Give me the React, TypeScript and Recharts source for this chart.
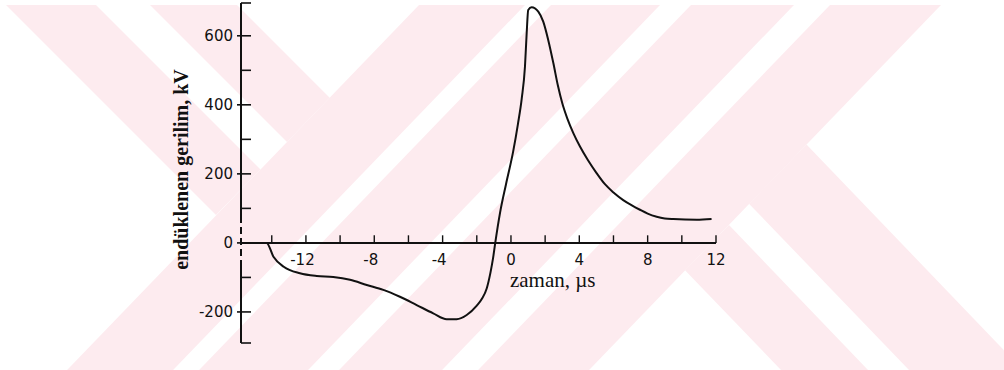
import React from 'react';
import { LineChart, Line, XAxis, YAxis, ReferenceLine, ReferenceDot } from 'recharts';

// zaman (µs) and endüklenen gerilim (kV) of the induced voltage waveform
const times = [
  -15.8, -14.3, -13.9, -13.3, -12.35, -11.37, -10.4, -9.42, -8.44, -7.47, -6.5,
  -5.52, -4.55, -3.76, -3.18, -2.59, -2.0, -1.7, -1.42, -1.2, -1.05, -0.92,
  -0.64, -0.29, 0.13, 0.41, 0.63, 0.82, 0.92, 1.01, 1.21, 1.6, 1.89, 2.18, 2.48,
  2.75, 3.0, 3.3, 3.65, 4.04, 4.5, 5.0, 5.5, 6.0, 6.57, 7.1, 7.55, 8.0, 8.53,
  9.0, 9.5, 10.87, 11.74,
];
const voltages = [
  0, 0, -40, -69, -88, -96, -99, -107, -122, -136, -156,
  -180, -204, -221, -221, -209, -182, -162, -132, -86, -45, 0,
  87, 170, 265, 345, 418, 511, 608, 675, 683, 670, 641, 588, 521,
  455, 405, 360, 318, 279, 240, 203, 170, 146, 124, 108, 96, 85, 76,
  71, 69, 67, 69,
];

const xTicks = [-14, -12, -10, -8, -6, -4, -2, 0, 2, 4, 6, 8, 10, 12];
const xLabels = [-12, -8, -4, 0, 4, 8, 12];
const yTicks = [-290, -200, -100, 0, 100, 200, 300, 400, 500, 600, 695];
const yLabels = [-200, 0, 200, 400, 600];

const xDomain: [number, number] = [-15.8, 12];
const yDomain: [number, number] = [-290, 695];

// stretch of the vertical axis that is drawn broken (kV)
const brokenFrom = 78;
const brokenTo = -70;

const xTitle = 'zaman, µs';
const yTitle = 'endüklenen gerilim, kV';

const data = times.map((t, i) => ({ t, v: voltages[i] }));

const INK = '#111';
const TICK_FONT = '"DejaVu Sans", sans-serif';
const SERIF = '"Liberation Serif", "Times New Roman", serif';
const PINK = '#fdebef';

// background emblem bands
const bands: string[] = [
  '419,5 525,5 173.1,370 67.1,370',
  '551,5 660,5 308.1,370 199.1,370',
  '691,5 794,5 442.1,370 339.1,370',
  '830,5 941,5 589.1,370 478.1,370',
  '6,5 96,5 260.5,169.5 216,215',
  '150,5 237,5 329.7,97.7 287,142',
  '685,270.3 729,225 868,370 781,370',
  '749,203.7 806.5,144.5 1023,370 909,370',
];

const YTick = (props: any) => {
  const { x, y, payload } = props;
  const val = payload.value as number;
  const labelled = yLabels.includes(val);
  return (
    <g>
      <line x1={labelled ? x - 4 : x} x2={x + 10} y1={y} y2={y} stroke={INK} strokeWidth={1.6} />
      {labelled && (
        <text x={x - 8} y={y} dy="0.36em" textAnchor="end" fontFamily={TICK_FONT} fontSize={15} fill={INK}>
          {String(val)}
        </text>
      )}
    </g>
  );
};

const makeXLabel = (val: number) => (props: any) => {
  const vb = props.viewBox || {};
  const cx = vb.x + (vb.width || 0) / 2;
  const cy = vb.y + (vb.height || 0) / 2;
  return (
    <text x={cx + (val < 0 ? -3.5 : 0)} y={cy + 22} textAnchor="middle" fontFamily={TICK_FONT} fontSize={15} fill={INK}>
      {String(val)}
    </text>
  );
};

const xTitleLabel = (props: any) => {
  const vb = props.viewBox || {};
  const x = vb.x - 1;
  const y = vb.y + 44;
  return (
    <text x={x} y={y} textAnchor="start" fontFamily={SERIF} fontSize={21} fill={INK}>
      {xTitle}
    </text>
  );
};

const yTitleLabel = (props: any) => {
  const vb = props.viewBox || {};
  const x = vb.x + 7;
  const y = vb.y + vb.height / 2 - 3.5;
  return (
    <text
      x={x}
      y={y}
      transform={`rotate(-90, ${x}, ${y})`}
      textAnchor="middle"
      fontFamily={SERIF}
      fontWeight="bold"
      fontSize={20}
      fill={INK}
    >
      {yTitle}
    </text>
  );
};

export default function App() {
  const x0 = xDomain[0];
  return (
    <div style={{ position: 'absolute', left: 0, top: 0, width: 1004, height: 370, background: '#fff', overflow: 'hidden' }}>
      <svg width={1004} height={370} style={{ position: 'absolute', left: 0, top: 0 }}>
        {bands.map((p, i) => (
          <polygon key={i} points={p} fill={PINK} />
        ))}
      </svg>
      <div style={{ position: 'absolute', left: 0, top: 0 }}>
        <LineChart width={1004} height={370} data={data} margin={{ top: 3, right: 288, bottom: 27, left: 181 }}>
          <XAxis dataKey="t" type="number" domain={xDomain} allowDataOverflow hide />
          <YAxis
            type="number"
            domain={yDomain}
            allowDataOverflow
            ticks={yTicks}
            interval={0}
            width={60}
            tickSize={0}
            tickMargin={0}
            tickLine={false}
            axisLine={false}
            tick={YTick}
            label={yTitleLabel}
          />
          {/* vertical axis: solid above and below a broken stretch around zero */}
          <ReferenceLine segment={[{ x: x0, y: yDomain[1] }, { x: x0, y: brokenFrom }]} stroke={INK} strokeWidth={2} />
          <ReferenceLine
            segment={[{ x: x0, y: brokenFrom }, { x: x0, y: brokenTo }]}
            stroke={INK}
            strokeWidth={2}
            strokeDasharray="7 4"
          />
          <ReferenceLine segment={[{ x: x0, y: brokenTo }, { x: x0, y: yDomain[0] }]} stroke={INK} strokeWidth={2} />
          <ReferenceLine y={0} stroke={INK} strokeWidth={2} />
          {xTicks.map((t) => (
            <ReferenceLine
              key={`tk${t}`}
              segment={[{ x: t, y: 0 }, { x: t, y: 22 }]}
              stroke={INK}
              strokeWidth={1.4}
            />
          ))}
          {xLabels.map((t) => (
            <ReferenceDot key={`lb${t}`} x={t} y={0} r={0} fill="none" stroke="none" label={makeXLabel(t)} />
          ))}
          <ReferenceDot x={0} y={0} r={0} fill="none" stroke="none" label={xTitleLabel} />
          <Line
            dataKey="v"
            type="monotone"
            stroke={INK}
            strokeWidth={2}
            dot={false}
            activeDot={false}
            isAnimationActive={false}
          />
        </LineChart>
      </div>
    </div>
  );
}
